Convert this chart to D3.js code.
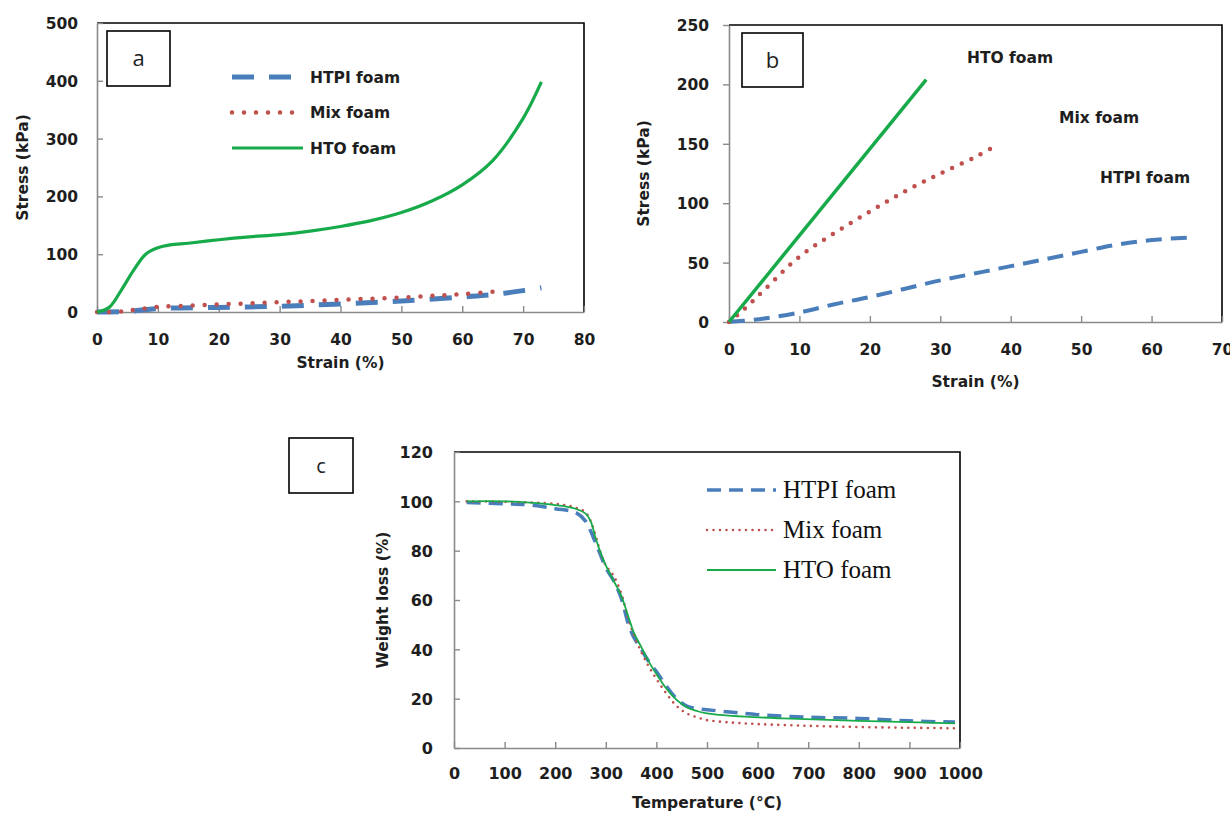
<!DOCTYPE html>
<html>
<head>
<meta charset="utf-8">
<script src="https://cdn.jsdelivr.net/npm/d3@7"></script>
<style>
  body { margin: 0; background: #fff; }
</style>
</head>
<body>
<svg id="chart" width="1230" height="818" font-family="DejaVu Sans, sans-serif"></svg>
<script>
// panel a - stress / strain, full compression
const aStrainHTPI = [0, 5, 10, 20, 30, 40, 50, 60, 65, 70, 73]
const aStressHTPI = [0, 1, 6, 8, 10, 14, 19, 26, 30, 37, 42]
const aStrainMix = [0, 3, 5, 7, 10, 15, 20, 25, 30, 35, 40, 45, 50, 55, 60, 65]
const aStressMix = [0, 0, 2, 5, 9, 11, 13, 15, 17, 19, 21, 23, 25, 28, 31, 35]
const aStrainHTO = [0, 2, 4, 6, 8, 10, 12, 15, 20, 25, 30, 35, 40, 45, 50, 55, 60, 65, 70, 73]
const aStressHTO = [0, 8, 38, 72, 100, 111, 116, 119, 125, 130, 134, 140, 148, 158, 172, 192, 220, 262, 335, 398]

// panel b - stress / strain, to break
const bStrainHTPI = [0, 2, 5, 10, 15, 20, 25, 30, 35, 40, 45, 50, 55, 60, 65]
const bStressHTPI = [0, 1, 3, 8, 15, 21, 28, 35, 41, 47, 53, 59, 65, 69, 71]
const bStrainMix = [0, 2, 5, 10, 15, 20, 25, 30, 35, 37.5]
const bStressMix = [0, 10, 27, 55, 75, 93, 110, 125, 139, 147]
const bStrainHTO = [0, 28]
const bStressHTO = [0, 204]

// panel c - TGA
const cTempHTPI = [25, 100, 150, 200, 240, 260, 270, 280, 290, 300, 315, 330, 345, 355, 370, 385, 400, 420, 440, 460, 480, 500, 550, 600, 700, 800, 900, 990]
const cWeightHTPI = [99.5, 99, 98.5, 97, 95.5, 92, 88, 83, 78, 73, 68, 61, 50, 45, 40, 35, 31, 25, 20, 17, 16, 15.5, 14.5, 13.5, 12.5, 12, 11, 10.5]
const cTempMix = [25, 100, 200, 240, 260, 270, 280, 290, 300, 315, 330, 345, 355, 370, 385, 400, 420, 440, 460, 480, 500, 550, 600, 700, 800, 900, 990]
const cWeightMix = [100, 99.8, 99, 97.5, 95.5, 92, 86, 79, 74, 70, 63, 52, 46, 39, 33, 28, 22, 17, 14, 12.5, 11.3, 10.3, 9.7, 9, 8.5, 8.2, 8]
const cTempHTO = [25, 100, 150, 200, 240, 260, 270, 280, 290, 300, 315, 330, 345, 355, 370, 385, 400, 420, 440, 460, 480, 500, 550, 650, 800, 990]
const cWeightHTO = [100, 100, 99.5, 98.5, 97, 95, 92, 85, 79, 74, 68, 62, 53, 47, 41, 35, 30, 24, 19.5, 16.5, 15, 14, 13, 12, 11, 10]

const seriesNames = ['HTPI foam', 'Mix foam', 'HTO foam']

const aXTicks = [0, 10, 20, 30, 40, 50, 60, 70, 80]
const aYTicks = [0, 100, 200, 300, 400, 500]
const bXTicks = [0, 10, 20, 30, 40, 50, 60, 70]
const bYTicks = [0, 50, 100, 150, 200, 250]
const cXTicks = [0, 100, 200, 300, 400, 500, 600, 700, 800, 900, 1000]
const cYTicks = [0, 20, 40, 60, 80, 100, 120]

const blue = '#4a7ebb', red = '#c0504d', green = '#17aa4a'
const axisGrey = '#8a8a8a', textCol = '#1e1e1e'

let svg = d3.select('#chart')

function zip(xs, ys) {
  return xs.map((x, i) => [x, ys[i]])
}

function panel(o) {
  let x = d3.scaleLinear().domain([o.xTicks[0], o.xTicks[o.xTicks.length - 1]]).range([o.left, o.right])
  let y = d3.scaleLinear().domain([o.yTicks[0], o.yTicks[o.yTicks.length - 1]]).range([o.bottom, o.top])
  let g = svg.append('g')

  // black border on top and right (excel plot area)
  g.append('path')
    .attr('d', `M${o.left},${o.top}H${o.right}V${o.bottom}`)
    .attr('fill', 'none').attr('stroke', '#000').attr('stroke-width', 1.6)

  let xAxis = g.append('g')
    .attr('transform', `translate(0,${o.bottom})`)
    .call(d3.axisBottom(x).tickValues(o.xTicks).tickFormat(d3.format('d'))
      .tickSizeInner(-6).tickSizeOuter(0).tickPadding(o.xPad))
  let yAxis = g.append('g')
    .attr('transform', `translate(${o.left},0)`)
    .call(d3.axisLeft(y).tickValues(o.yTicks).tickFormat(d3.format('d'))
      .tickSizeInner(o.yTickIn ? -6 : 6).tickSizeOuter(0).tickPadding(o.yPad))

  ;[xAxis, yAxis].forEach(ax => {
    ax.select('.domain').attr('stroke', axisGrey).attr('stroke-width', 1.6)
    ax.selectAll('.tick line').attr('stroke', axisGrey).attr('stroke-width', 1.4)
    ax.selectAll('.tick text')
      .style('font-family', '"DejaVu Sans", sans-serif')
      .style('font-size', o.tickSize + 'px').style('font-weight', 'bold').attr('fill', textCol)
  })
  yAxis.selectAll('.tick text').attr('dy', '0.36em')

  g.append('text')
    .attr('x', (o.left + o.right) / 2).attr('y', o.xTitleY)
    .attr('text-anchor', 'middle').attr('font-size', 15.5).attr('font-weight', 'bold').attr('fill', textCol)
    .text(o.xTitle)
  g.append('text')
    .attr('transform', `translate(${o.yTitleX},${(o.top + o.bottom) / 2}) rotate(-90)`)
    .attr('text-anchor', 'middle').attr('dy', '0.36em')
    .attr('font-size', 15.5).attr('font-weight', 'bold').attr('fill', textCol)
    .text(o.yTitle)

  let line = d3.line().x(d => x(d[0])).y(d => y(d[1])).curve(d3.curveCatmullRom.alpha(0.5))
  o.series.forEach(s => {
    g.append('path')
      .datum(zip(s.x, s.y))
      .attr('d', line)
      .attr('fill', 'none')
      .attr('stroke', s.color)
      .attr('stroke-width', s.width)
      .attr('stroke-dasharray', s.dash || null)
      .attr('stroke-linecap', s.cap || 'butt')
  })

  // letter box
  let b = o.box
  g.append('rect').attr('x', b[0]).attr('y', b[1]).attr('width', b[2]).attr('height', b[3])
    .attr('fill', '#fff').attr('stroke', '#000').attr('stroke-width', 1.6)
  g.append('text')
    .attr('x', b[0] + b[2] / 2).attr('y', b[1] + b[3] / 2).attr('dy', '0.35em')
    .attr('text-anchor', 'middle').style('font-family', '"Open Sans", sans-serif')
    .attr('font-size', o.letterSize).attr('fill', textCol)
    .text(o.letter)

  return g
}

// ---------- panel a ----------
let styleA = [
  { color: blue, width: 5, dash: '22,15' },
  { color: red, width: 4.5, dash: '0,12', cap: 'round' },
  { color: green, width: 3.2 }
]
let gA = panel({
  left: 97, right: 584, top: 23, bottom: 312,
  xTicks: aXTicks, yTicks: aYTicks, xPad: 22, yPad: 19, yTickIn: true, tickSize: 15.5,
  xTitle: 'Strain (%)', xTitleY: 368, yTitle: 'Stress (kPa)', yTitleX: 22,
  box: [107, 31, 63, 55], letter: 'a', letterSize: 22,
  series: [
    Object.assign({ x: aStrainHTPI, y: aStressHTPI }, styleA[0]),
    Object.assign({ x: aStrainMix, y: aStressMix }, styleA[1]),
    Object.assign({ x: aStrainHTO, y: aStressHTO }, styleA[2])
  ]
})
seriesNames.forEach((name, i) => {
  let yy = 77 + i * 35.5
  gA.append('line').attr('x1', 232).attr('x2', i == 2 ? 303 : 297).attr('y1', yy).attr('y2', yy)
    .attr('stroke', styleA[i].color).attr('stroke-width', styleA[i].width)
    .attr('stroke-dasharray', styleA[i].dash || null).attr('stroke-linecap', styleA[i].cap || 'butt')
  gA.append('text').attr('x', 310).attr('y', yy).attr('dy', '0.36em')
    .attr('font-size', 15.5).attr('font-weight', 'bold').attr('fill', textCol).text(name)
})

// ---------- panel b ----------
let gB = panel({
  left: 729, right: 1222, top: 25, bottom: 322,
  xTicks: bXTicks, yTicks: bYTicks, xPad: 22, yPad: 14, yTickIn: false, tickSize: 15.5,
  xTitle: 'Strain (%)', xTitleY: 387, yTitle: 'Stress (kPa)', yTitleX: 643,
  box: [742, 33, 61, 54], letter: 'b', letterSize: 22,
  series: [
    { x: bStrainHTPI, y: bStressHTPI, color: blue, width: 4, dash: '16,9' },
    { x: bStrainMix, y: bStressMix, color: red, width: 4.5, dash: '0,10.5', cap: 'round' },
    { x: bStrainHTO, y: bStressHTO, color: green, width: 3.5 }
  ]
})
let bLabels = [[1100, 177], [1059, 117], [967, 57]]
seriesNames.forEach((name, i) => {
  gB.append('text').attr('x', bLabels[i][0]).attr('y', bLabels[i][1]).attr('dy', '0.36em')
    .attr('font-size', 15.5).attr('font-weight', 'bold').attr('fill', textCol).text(name)
})

// ---------- panel c ----------
let styleC = [
  { color: blue, width: 3.5, dash: '14,8' },
  { color: red, width: 2.6, dash: '0,6.5', cap: 'round' },
  { color: green, width: 1.8 }
]
let gC = panel({
  left: 454, right: 960, top: 452, bottom: 748,
  xTicks: cXTicks, yTicks: cYTicks, xPad: 20, yPad: 21, yTickIn: true, tickSize: 16,
  xTitle: 'Temperature (\u00b0C)', xTitleY: 808, yTitle: 'Weight loss (%)', yTitleX: 382,
  box: [289, 438, 64, 55], letter: 'c', letterSize: 20,
  series: [
    Object.assign({ x: cTempHTPI, y: cWeightHTPI }, styleC[0]),
    Object.assign({ x: cTempMix, y: cWeightMix }, styleC[1]),
    Object.assign({ x: cTempHTO, y: cWeightHTO }, styleC[2])
  ]
})
seriesNames.forEach((name, i) => {
  let yy = 490 + i * 40
  gC.append('line').attr('x1', 707).attr('x2', 776).attr('y1', yy).attr('y2', yy)
    .attr('stroke', styleC[i].color).attr('stroke-width', styleC[i].width)
    .attr('stroke-dasharray', styleC[i].dash || null).attr('stroke-linecap', styleC[i].cap || 'butt')
  gC.append('text').attr('x', 783).attr('y', yy).attr('dy', '0.33em')
    .style('font-family', '"Liberation Serif", serif')
    .attr('font-size', 25).attr('fill', '#111').text(name)
})
</script>
</body>
</html>
